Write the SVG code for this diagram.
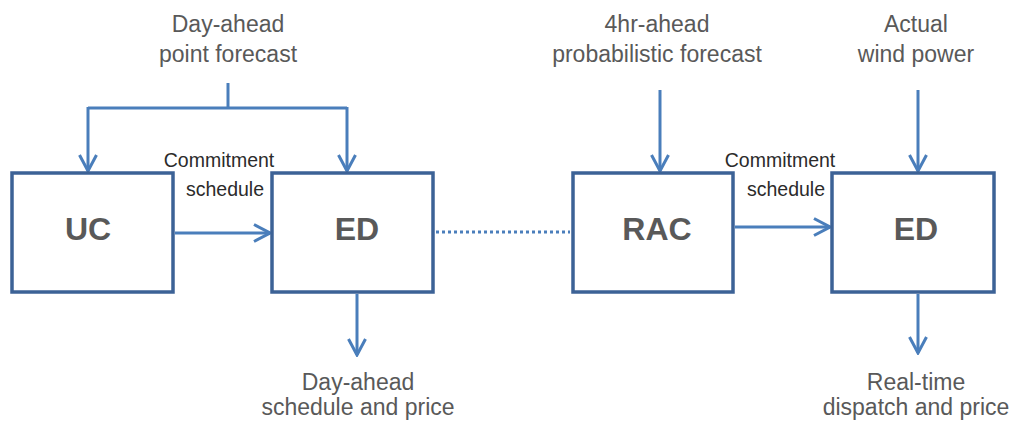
<svg xmlns="http://www.w3.org/2000/svg" width="1013" height="422" viewBox="0 0 1013 422">
<style>
.box{fill:#fff;stroke:#3C6296;stroke-width:3.5}
.lbl{font-family:"Liberation Sans",Arial,sans-serif;font-weight:bold;font-size:32px;fill:#595959;text-anchor:middle}
.txt{font-family:"Liberation Sans",Arial,sans-serif;font-size:23px;fill:#595959;text-anchor:middle}
.sm{font-family:"Liberation Sans",Arial,sans-serif;font-size:19.5px;fill:#2b2b2b;text-anchor:middle}
.ln{fill:none;stroke:#4A7EBB;stroke-width:3}
.dot{fill:none;stroke:#4A7EBB;stroke-width:3;stroke-dasharray:3 3}
</style>
<defs>
<marker id="ah" viewBox="0 0 20 20" refX="18" refY="10" markerWidth="20" markerHeight="20" markerUnits="userSpaceOnUse" orient="auto">
<polyline points="2,1.5 18,10 2,18.5" fill="none" stroke="#4A7EBB" stroke-width="3"/>
</marker>
</defs>
<g id="connectors">
<polyline class="ln" points="228,83 228,108"/>
<polyline class="ln" points="88,108 347,108"/>
<line class="ln" x1="88" y1="107" x2="88" y2="171" marker-end="url(#ah)"/>
<line class="ln" x1="347" y1="107" x2="347" y2="171" marker-end="url(#ah)"/>
<line class="ln" x1="175" y1="233" x2="270" y2="233" marker-end="url(#ah)"/>
<line class="dot" x1="436" y1="232" x2="570" y2="232"/>
<line class="ln" x1="660" y1="90" x2="660" y2="171" marker-end="url(#ah)"/>
<line class="ln" x1="918" y1="90" x2="918" y2="171" marker-end="url(#ah)"/>
<line class="ln" x1="735" y1="227" x2="830" y2="227" marker-end="url(#ah)"/>
<line class="ln" x1="357" y1="294" x2="357" y2="355" marker-end="url(#ah)"/>
<line class="ln" x1="918" y1="294" x2="918" y2="353" marker-end="url(#ah)"/>
</g>
<g id="UC"><rect class="box" x="12" y="173" width="161" height="119"/><text class="lbl" x="88" y="240">UC</text></g>
<g id="ED1"><rect class="box" x="272" y="173" width="161" height="119"/><text class="lbl" x="357" y="240">ED</text></g>
<g id="RAC"><rect class="box" x="573" y="173" width="160" height="119"/><text class="lbl" x="657" y="240">RAC</text></g>
<g id="ED2"><rect class="box" x="832" y="173" width="162" height="119"/><text class="lbl" x="916" y="240">ED</text></g>
<g id="labels">
<text class="txt" x="228" y="32">Day-ahead</text>
<text class="txt" x="228" y="62">point forecast</text>
<text class="txt" x="657" y="32">4hr-ahead</text>
<text class="txt" x="657" y="62">probabilistic forecast</text>
<text class="txt" x="916" y="32">Actual</text>
<text class="txt" x="916" y="62">wind power</text>
<text class="sm" x="219" y="167">Commitment</text>
<text class="sm" x="225" y="196">schedule</text>
<text class="sm" x="780" y="167">Commitment</text>
<text class="sm" x="786" y="196">schedule</text>
<text class="txt" x="358" y="390">Day-ahead</text>
<text class="txt" x="358" y="415">schedule and price</text>
<text class="txt" x="916" y="390">Real-time</text>
<text class="txt" x="916" y="415">dispatch and price</text>
</g>
</svg>
